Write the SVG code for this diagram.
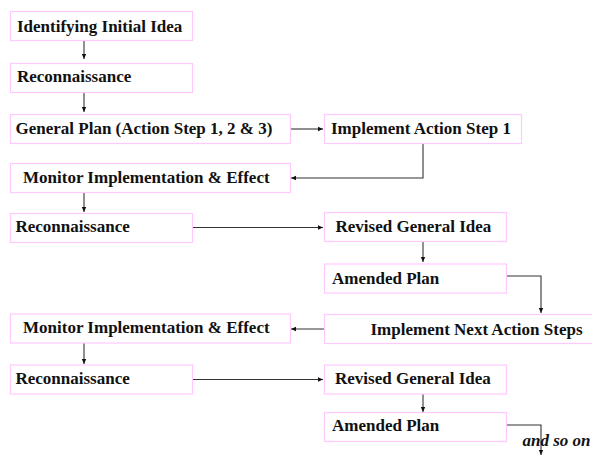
<svg xmlns="http://www.w3.org/2000/svg" width="592" height="455" viewBox="0 0 592 455">
<defs>
<style>
.box{fill:#fff;stroke:#ffc8ff;stroke-width:1.2}
.t{font-family:"Liberation Serif","Times New Roman",Times,"DejaVu Serif",serif;font-weight:bold;font-size:17px;fill:#111}
.it{font-family:"Liberation Serif","Times New Roman",Times,"DejaVu Serif",serif;font-weight:bold;font-style:italic;font-size:17px;fill:#111}
.c{fill:none;stroke:#333;stroke-width:1.1}
.v{fill:none;stroke:#555;stroke-width:1.3}
</style>
<marker id="ah" markerWidth="6" markerHeight="6" refX="5" refY="3" orient="auto" markerUnits="userSpaceOnUse">
<path d="M0,0.8 L5,3 L0,5.2 Z" fill="#111"/>
</marker>
</defs>
<rect width="592" height="455" fill="#fff"/>
<g id="connectors">
<path class="v" d="M84,41 V59" marker-end="url(#ah)"/>
<path class="v" d="M84,92 V112" marker-end="url(#ah)"/>
<path class="c" d="M291,129 H323" marker-end="url(#ah)"/>
<path class="c" d="M423,144 V178 H291" marker-end="url(#ah)"/>
<path class="v" d="M84,193 V212" marker-end="url(#ah)"/>
<path class="c" d="M193,227.5 H323" marker-end="url(#ah)"/>
<path class="v" d="M423,242 V262" marker-end="url(#ah)"/>
<path class="c" d="M507,276 H541 V313" marker-end="url(#ah)"/>
<path class="c" d="M324,329 H291" marker-end="url(#ah)"/>
<path class="v" d="M84,343 V364" marker-end="url(#ah)"/>
<path class="c" d="M193,379.5 H323" marker-end="url(#ah)"/>
<path class="v" d="M423,394 V412" marker-end="url(#ah)"/>
<path class="c" d="M507,425 H541 V455" marker-end="url(#ah)"/>
</g>
<g id="n1"><rect class="box" x="10.5" y="11.5" width="182" height="29"/><text class="t" x="17" y="31.5">Identifying Initial Idea</text></g>
<g id="n2"><rect class="box" x="10.5" y="63.5" width="182" height="29"/><text class="t" x="17" y="82">Reconnaissance</text></g>
<g id="n3"><rect class="box" x="10.5" y="114.5" width="280" height="29"/><text class="t" x="15.5" y="134">General Plan (Action Step 1, 2 &amp; 3)</text></g>
<g id="n4"><rect class="box" x="324.5" y="114.5" width="197" height="29"/><text class="t" x="331" y="134">Implement Action Step 1</text></g>
<g id="n5"><rect class="box" x="10.5" y="163.5" width="280" height="29"/><text class="t" x="23" y="183">Monitor Implementation &amp; Effect</text></g>
<g id="n6"><rect class="box" x="10.5" y="213.5" width="182" height="29"/><text class="t" x="15.5" y="232">Reconnaissance</text></g>
<g id="n7"><rect class="box" x="324.5" y="212.5" width="182" height="29"/><text class="t" x="335.5" y="232">Revised General Idea</text></g>
<g id="n8"><rect class="box" x="324.5" y="264" width="182" height="29"/><text class="t" x="332" y="284">Amended Plan</text></g>
<g id="n9"><rect class="box" x="324.5" y="314.5" width="280" height="29"/><text class="t" x="370.5" y="335">Implement Next Action Steps</text></g>
<g id="n10"><rect class="box" x="10.5" y="314" width="280" height="29"/><text class="t" x="23" y="333">Monitor Implementation &amp; Effect</text></g>
<g id="n11"><rect class="box" x="10.5" y="365" width="182" height="29"/><text class="t" x="15.5" y="383.5">Reconnaissance</text></g>
<g id="n12"><rect class="box" x="324.5" y="365" width="182" height="29"/><text class="t" x="335" y="383.5">Revised General Idea</text></g>
<g id="n13"><rect class="box" x="324.5" y="412.5" width="182" height="29"/><text class="t" x="332" y="431">Amended Plan</text></g>
<text class="it" x="522.5" y="445.5">and so on</text>
</svg>
